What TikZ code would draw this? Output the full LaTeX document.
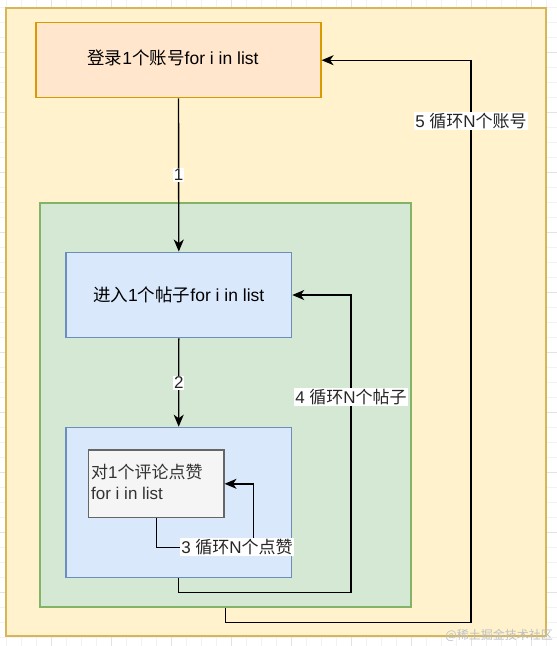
\documentclass[tikz,border=0pt]{standalone}
\usepackage{fontspec}
\setmainfont{Liberation Sans}
\newfontfamily\cjk{Noto Sans CJK SC}
\usetikzlibrary{arrows.meta}
\definecolor{outerfill}{HTML}{FFF2CC}
\definecolor{outerdraw}{HTML}{D6B656}
\definecolor{orfill}{HTML}{FFE6CC}
\definecolor{ordraw}{HTML}{D79B00}
\definecolor{grfill}{HTML}{D5E8D4}
\definecolor{grdraw}{HTML}{82B366}
\definecolor{blfill}{HTML}{DAE8FC}
\definecolor{bldraw}{HTML}{6C8EBF}
\definecolor{gyfill}{HTML}{F5F5F5}
\definecolor{gydraw}{HTML}{666666}
\definecolor{gytext}{HTML}{333333}
\definecolor{gridminor}{HTML}{F2F2F2}
\definecolor{gridmajor}{HTML}{E3E3E3}
\begin{document}
\begin{tikzpicture}[x=1pt,y=-1pt,
  box/.style={rectangle, draw, line width=1.2pt, inner sep=0pt, font=\fontsize{17.5}{21}\selectfont},
  conn/.style={draw=black, line width=1.4pt, -{Stealth[length=12pt,width=10pt,inset=3.5pt]}},
  lbl/.style={fill=white, inner sep=1pt, font=\fontsize{17}{21}\selectfont, text=black!85}]
\useasboundingbox (0,0) rectangle (557,646);
\fill[white] (0,0) rectangle (557,646);
% grid
\foreach \x in {6.7,21.7,...,557} \draw[gridminor, line width=0.8pt] (\x,0) -- (\x,646);
\foreach \y in {7,22,...,646} \draw[gridminor, line width=0.8pt] (0,\y) -- (557,\y);
\foreach \x in {51.7,111.7,...,557} \draw[gridmajor, line width=0.8pt] (\x,0) -- (\x,646);
\foreach \y in {52,112,...,646} \draw[gridmajor, line width=0.8pt] (0,\y) -- (557,\y);
% containers
\node[box, draw=outerdraw, fill=outerfill, minimum width=540pt, minimum height=628pt] (outer) at (276,322) {};
\node[box, draw=grdraw, fill=grfill, minimum width=371pt, minimum height=404pt] (green) at (225.5,405) {};
% nodes
\node[box, draw=ordraw, fill=orfill, minimum width=285pt, minimum height=75pt] (login) at (178.5,60.2) {};
\node[inner sep=0pt, font=\fontsize{17.5}{21}\selectfont] (logintext) at (173,58) {{\cjk 登录}1{\cjk 个账号}for i in list};
\node[box, draw=bldraw, fill=blfill, minimum width=225.7pt, minimum height=85.7pt] (post) at (178.8,295) {{\cjk 进入}1{\cjk 个帖子}for i in list};
\node[box, draw=bldraw, fill=blfill, minimum width=225.3pt, minimum height=150pt] (inner) at (178.7,502.3) {};
\node[box, draw=gydraw, fill=gyfill, minimum width=135.3pt, minimum height=67.7pt] (like) at (156.3,483.8) {};
\node[anchor=west, align=left, inner sep=0pt, text=gytext, font=\fontsize{17}{20.5}\selectfont] (liketext) at (91,481.7) {{\cjk 对}1{\cjk 个评论点赞}\\for i in list};
% connectors
\draw[conn] (login.south) -- node[lbl] {1} (post.north);
\draw[conn] (post.south) -- node[lbl] {2} (inner.north);
\coordinate (c3a) at (156.3,547.3);
\coordinate (c3b) at (253.3,547.3);
\draw[conn] (like.south) -- (c3a) -- (c3b) |- (like.east);
\node[lbl] (l3) at (237,547.3) {3 {\cjk 循环}N{\cjk 个点赞}};
\coordinate (c4a) at (178.7,592.3);
\coordinate (c4b) at (351,592.3);
\draw[conn] (inner.south) -- (c4a) -- (c4b) |- (post.east);
\node[lbl] (l4) at (351,396.7) {4 {\cjk 循环}N{\cjk 个帖子}};
\coordinate (c5a) at (225.5,622.7);
\coordinate (c5b) at (471,622.7);
\draw[conn] (green.south) -- (c5a) -- (c5b) |- (login.east);
\node[lbl] (l5) at (471,120.7) {5 {\cjk 循环}N{\cjk 个账号}};
% watermark
\node[anchor=east, inner sep=0pt, text=black!25, font=\cjk\fontsize{12}{14}\selectfont] (wm) at (553,635) {@稀土掘金技术社区};
\end{tikzpicture}
\end{document}
